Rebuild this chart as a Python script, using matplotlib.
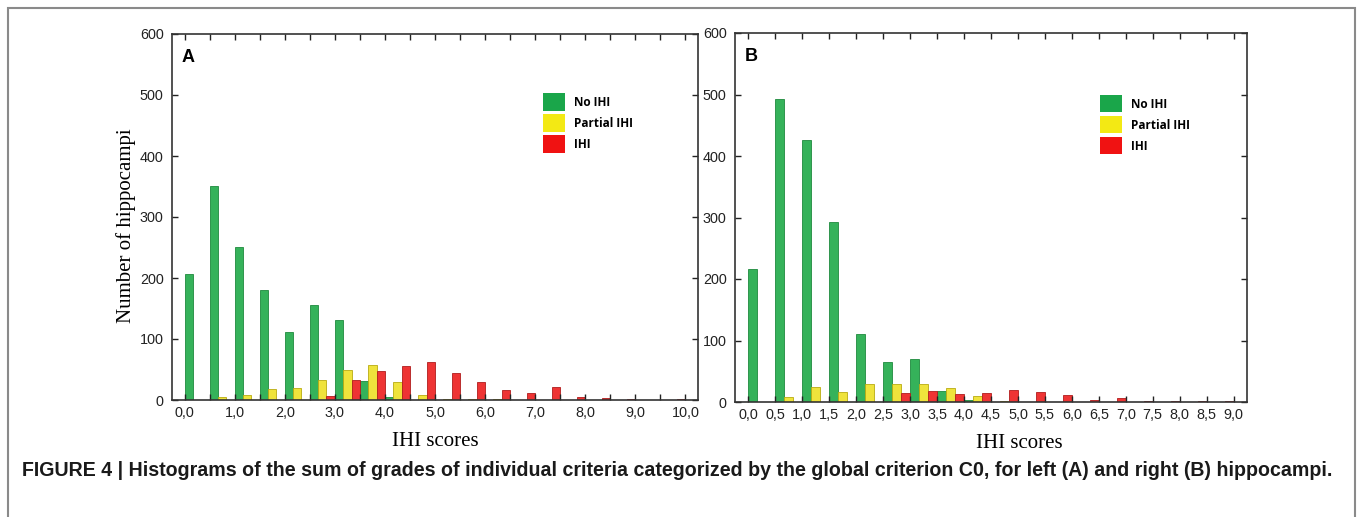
import numpy as np
import matplotlib
matplotlib.use("Agg")
import matplotlib.pyplot as plt
from matplotlib.patches import Patch, Rectangle

# bins (IHI scores), left panel A and right panel B
bins_a = np.arange(0, 10.01, 0.5)
no_ihi_a = [207, 350, 250, 180, 111, 155, 131, 31, 5, 0, 0,
            0, 0, 0, 0, 0, 0, 0, 0, 0, 0]
partial_a = [0, 5, 9, 18, 20, 33, 50, 57, 30, 8, 2,
             1, 1, 0, 0, 0, 0, 0, 0, 0, 0]
ihi_a = [0, 0, 0, 0, 0, 7, 32, 47, 55, 62, 45,
         29, 16, 12, 22, 5, 4, 2, 0, 2, 0]

bins_b = np.arange(0, 9.01, 0.5)
no_ihi_b = [216, 493, 426, 293, 111, 65, 70, 18, 4, 0,
            0, 0, 0, 0, 0, 0, 0, 0, 0]
partial_b = [0, 8, 25, 17, 30, 30, 30, 23, 9, 1,
             0, 0, 0, 0, 0, 0, 0, 0, 0]
ihi_b = [0, 0, 0, 0, 0, 15, 18, 13, 15, 20,
         17, 12, 4, 7, 2, 2, 2, 1, 0]

labels = ["No IHI", "Partial IHI", "IHI"]
bar_cols = ["#35b25a", "#efe33c", "#ee3434"]
edge_cols = ["#1f8a3e", "#b9ab10", "#b01c1c"]
leg_cols = ["#1aa64a", "#f3e914", "#f01212"]

serif = ["Liberation Serif", "DejaVu Serif"]
sans = ["Liberation Sans", "DejaVu Sans"]
plt.rcParams["font.family"] = sans

fig = plt.figure(figsize=(13.57, 5.17), dpi=100)

# outer frame
fig.add_artist(Rectangle((8 / 1357, -0.02), 1347 / 1357, 1.0045,
                         transform=fig.transFigure, fill=False,
                         edgecolor="#8a8a8a", lw=1.5))

ax_a = fig.add_axes([172 / 1357, 117 / 517, 526 / 1357, 366 / 517])
ax_b = fig.add_axes([735 / 1357, 115 / 517, 512 / 1357, 369 / 517])


def draw_panel(ax, bins, series, xmax, every, letter, leg_xy, xlab_x):
    w = 0.5 / 3
    for k, vals in enumerate(series):
        ax.bar(bins + k * w, vals, width=w, align="edge", color=bar_cols[k],
               edgecolor=edge_cols[k], lw=0.6)
    ax.set_xlim(-0.25, xmax)
    ax.set_ylim(0, 600)
    ax.set_yticks(np.arange(0, 601, 100))
    ax.set_xticks(bins)
    ticklab = []
    for i, b in enumerate(bins):
        if i % every == 0:
            ticklab.append(f"{b:.1f}".replace(".", ","))
        else:
            ticklab.append("")
    ax.set_xticklabels(ticklab)
    ax.tick_params(direction="in", top=True, right=True, length=4,
                   width=1, labelsize=10.4, colors="#222222")
    ax.tick_params(axis="y", pad=6)
    ax.tick_params(axis="x", pad=4)
    for s in ax.spines.values():
        s.set_color("#333333")
        s.set_linewidth(1.2)
    ax.text(0.019, 0.937, letter, transform=ax.transAxes, fontsize=13,
            fontweight="bold", va="center", ha="left")
    ax.set_xlabel("IHI scores", family=serif, fontsize=15)
    ax.xaxis.set_label_coords(xlab_x, -0.088)
    handles = [Patch(facecolor=c, edgecolor="none") for c in leg_cols]
    ax.legend(handles, labels, loc="upper left", bbox_to_anchor=leg_xy,
              frameon=False, borderpad=0, borderaxespad=0,
              handlelength=1.9, handleheight=1.9, handletextpad=0.7,
              labelspacing=0.3,
              prop={"family": ["Open Sans", "DejaVu Sans"],
                    "weight": "bold", "size": 8.5})


draw_panel(ax_a, bins_a, [no_ihi_a, partial_a, ihi_a], 10.25, 2, "A",
           (0.705, 0.838), 0.5)
draw_panel(ax_b, bins_b, [no_ihi_b, partial_b, ihi_b], 9.25, 1, "B",
           (0.713, 0.832), 0.555)

ax_a.set_ylabel("Number of hippocampi", family=serif, fontsize=15)
ax_a.yaxis.set_label_coords(-0.068, 0.475)

fig.text(22 / 1357, 1 - 471 / 517,
         "FIGURE 4 | Histograms of the sum of grades of individual criteria "
         "categorized by the global criterion C0, for left (A) and right (B) "
         "hippocampi.", fontsize=14.1, fontweight="bold", va="center",
         ha="left", color="#1a1a1a")

fig.savefig("out.png", dpi=100)
